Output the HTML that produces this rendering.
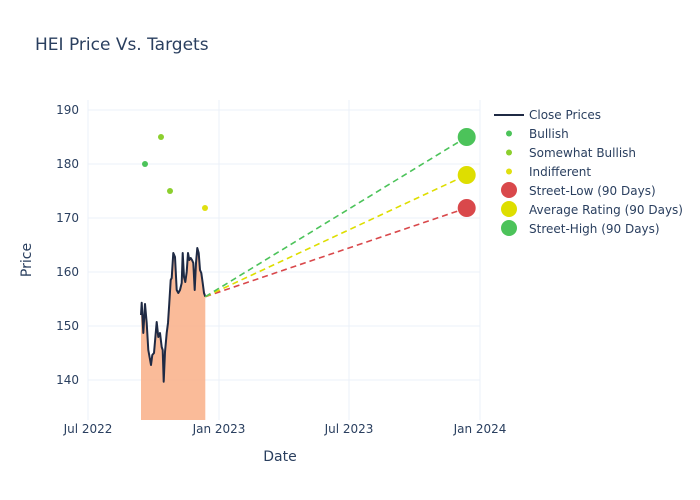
<!DOCTYPE html>
<html><head><meta charset="utf-8"><style>
body{margin:0;background:#fff;}
svg{display:block;font-family:"DejaVu Sans","Liberation Sans",sans-serif;}
</style></head><body>
<svg width="700" height="500" xmlns="http://www.w3.org/2000/svg">
<rect width="700" height="500" fill="#fff"/>
<text x="35" y="50" font-size="17" fill="#2a3f5f">HEI Price Vs. Targets</text>
<g stroke="#ebf0f8" stroke-width="1">
<line x1="88" y1="100" x2="88" y2="420"/><line x1="219" y1="100" x2="219" y2="420"/>
<line x1="349" y1="100" x2="349" y2="420"/><line x1="480" y1="100" x2="480" y2="420"/>
<line x1="88" y1="110" x2="480" y2="110"/><line x1="88" y1="164" x2="480" y2="164"/>
<line x1="88" y1="218" x2="480" y2="218"/><line x1="88" y1="272" x2="480" y2="272"/>
<line x1="88" y1="326" x2="480" y2="326"/><line x1="88" y1="380" x2="480" y2="380"/>
</g>
<g font-size="12" fill="#2a3f5f" text-anchor="end">
<text x="79" y="114">190</text><text x="79" y="168">180</text><text x="79" y="222">170</text>
<text x="79" y="276">160</text><text x="79" y="330">150</text><text x="79" y="384">140</text>
</g>
<g font-size="12" fill="#2a3f5f" text-anchor="middle">
<text x="88" y="433">Jul 2022</text><text x="219" y="433">Jan 2023</text>
<text x="349" y="433">Jul 2023</text><text x="480" y="433">Jan 2024</text>
</g>
<text x="280" y="461" font-size="14" fill="#2a3f5f" text-anchor="middle">Date</text>
<text x="31" y="260" font-size="14" fill="#2a3f5f" text-anchor="middle" transform="rotate(-90 31 260)">Price</text>
<polygon fill="#f9b48e" fill-opacity="0.9" points="141,420 141,315 141.7,302.7 143.3,333 145,304 146.7,323 148.3,350 151,365 152.3,355 154,353 156.7,322 158.3,337 160,333 161.7,347 162.7,350 163.7,381.7 165,352 166.7,333 168,323 169.3,303 170.7,280 171.7,278 173.3,253 175,257 176.7,290 178.3,293 180,290 181.7,283 182.7,253 184,277 185.3,282 186.7,272 188,253 189.3,260 190.7,258 192,260 193.3,263 194.7,290 196,263 197.3,248 198.7,253 200,270 201.3,273 202.7,283 204,293 205.3,296.7 205.3,420"/>
<polyline fill="none" stroke="#1f2a44" stroke-width="2" stroke-linejoin="round" points="141,315 141.7,302.7 143.3,333 145,304 146.7,323 148.3,350 151,365 152.3,355 154,353 156.7,322 158.3,337 160,333 161.7,347 162.7,350 163.7,381.7 165,352 166.7,333 168,323 169.3,303 170.7,280 171.7,278 173.3,253 175,257 176.7,290 178.3,293 180,290 181.7,283 182.7,253 184,277 185.3,282 186.7,272 188,253 189.3,260 190.7,258 192,260 193.3,263 194.7,290 196,263 197.3,248 198.7,253 200,270 201.3,273 202.7,283 204,293 205.3,296.7"/>
<g stroke-width="1.6" stroke-dasharray="6,4" fill="none">
<line x1="205.3" y1="296.7" x2="466.7" y2="208" stroke="#d9484b"/>
<line x1="205.3" y1="296.7" x2="466.7" y2="175" stroke="#dede00"/>
<line x1="205.3" y1="296.7" x2="466.7" y2="137" stroke="#4cc35a"/>
</g>
<circle cx="145" cy="164" r="3" fill="#4cc35a"/>
<circle cx="161" cy="137" r="3" fill="#8ccf2e"/>
<circle cx="170" cy="191" r="3" fill="#8ccf2e"/>
<circle cx="205" cy="208" r="3" fill="#e0e010"/>
<circle cx="466.7" cy="208" r="9" fill="#d9484b"/>
<circle cx="466.7" cy="175" r="9" fill="#dede00"/>
<circle cx="466.7" cy="137" r="9" fill="#4cc35a"/>
<g font-size="12" fill="#2a3f5f">
<line x1="494" y1="115" x2="524" y2="115" stroke="#1f2a44" stroke-width="2"/>
<text x="529" y="119">Close Prices</text>
<circle cx="509" cy="133.5" r="3" fill="#4cc35a"/><text x="529" y="138">Bullish</text>
<circle cx="509" cy="152.5" r="3" fill="#8ccf2e"/><text x="529" y="157">Somewhat Bullish</text>
<circle cx="509" cy="171.5" r="3" fill="#e0e010"/><text x="529" y="176">Indifferent</text>
<circle cx="509" cy="190" r="8" fill="#d9484b"/><text x="529" y="195">Street-Low (90 Days)</text>
<circle cx="509" cy="209" r="8" fill="#dede00"/><text x="529" y="214">Average Rating (90 Days)</text>
<circle cx="509" cy="228" r="8" fill="#4cc35a"/><text x="529" y="233">Street-High (90 Days)</text>
</g>
</svg>
</body></html>
